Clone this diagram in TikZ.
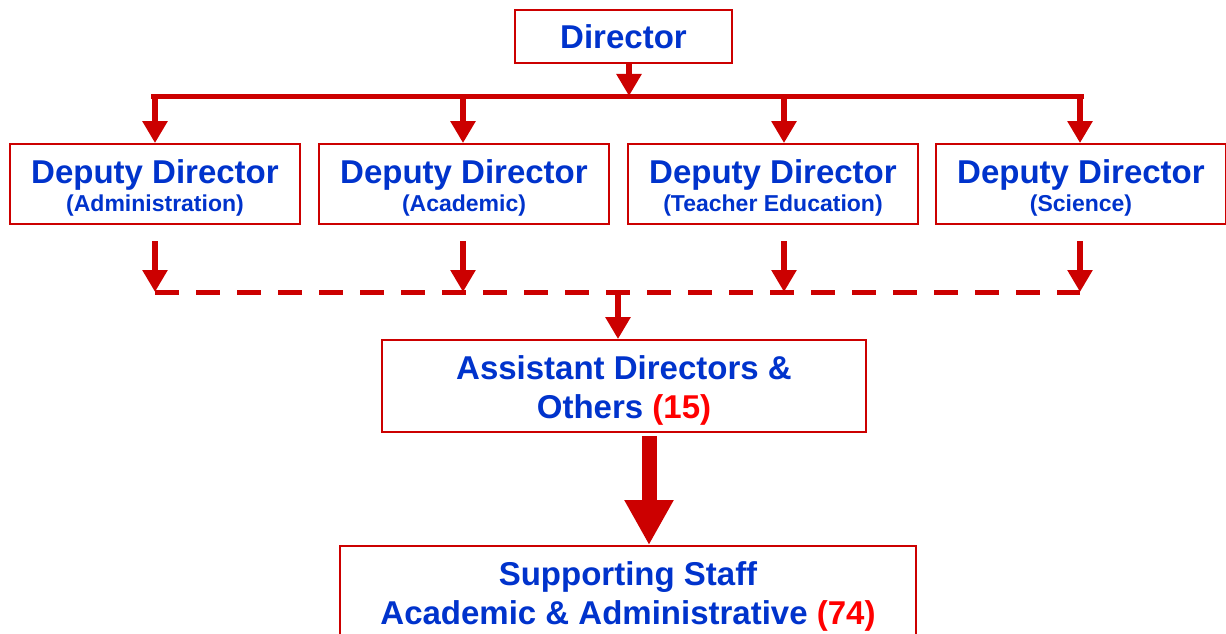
\documentclass[tikz,border=0pt]{standalone}
\usepackage{fontspec}
\setmainfont{Liberation Sans}
\usetikzlibrary{arrows.meta, positioning}
\definecolor{rb}{HTML}{CC0000}
\definecolor{bl}{HTML}{0033CC}
\definecolor{rn}{HTML}{FF0000}
\newcommand{\subline}[1]{{\fontsize{23}{27}\selectfont #1}}
\newcommand{\lift}{\rule{0pt}{32pt}}

\tikzset{
    box/.style={draw=rb, line width=1.8pt, fill=white, text=bl, inner sep=0pt,
        font=\bfseries\fontsize{33}{39}\selectfont, align=center},
    deputy/.style={box, minimum width=290pt, minimum height=80pt},
    feed/.style={rb, line width=6pt, -{Triangle[width=24pt,length=22pt]}},
    bus/.style={rb, line width=5pt},
    bigfeed/.style={rb, line width=15pt, -{Triangle[width=46pt,length=45pt]}}
}

\begin{document}
\begin{tikzpicture}[x=1pt, y=-1pt]
    \useasboundingbox (0,0) rectangle (1226,634);
    \clip (0,0) rectangle (1226,634);

    % Boxes
    \node[box, minimum width=217pt, minimum height=53pt] (director) at (623.5,36.5) {Director};
    \node[deputy] (dep1) at (155,184) {\lift Deputy Director\\[-11pt]\subline{(Administration)}};
    \node[deputy] (dep2) at (464,184) {\lift Deputy Director\\[-11pt]\subline{(Academic)}};
    \node[deputy] (dep3) at (773,184) {\lift Deputy Director\\[-11pt]\subline{(Teacher Education)}};
    \node[deputy] (dep4) at (1081,184) {\lift Deputy Director\\[-11pt]\subline{(Science)}};
    \node[box, minimum width=484pt, minimum height=92pt] (assist) at (624,386)
        {\lift Assistant Directors \&\\Others {\color{rn}(15)}};
    \node[box, minimum width=576pt, minimum height=93pt] (staff) at (628,592.5)
        {\lift Supporting Staff\\Academic \& Administrative {\color{rn}(74)}};

    % Director to deputies
    \coordinate (top) at (629,96);
    \draw[feed] (director.south -| top) -- (top);
    \foreach \n/\x in {1/155, 2/463, 3/784, 4/1080} {
        \coordinate (b\n) at (\x,96);
        \coordinate (u\n) at (\x,241);
        \coordinate (d\n) at (\x,292);
        \draw[feed] (b\n) -- (b\n |- dep\n.north);
        \draw[feed] (u\n) -- (d\n);
    }
    \draw[bus] ([xshift=-4pt]b1) -- ([xshift=4pt]b4);

    % Deputies to assistant directors
    \draw[bus, dash pattern=on 24pt off 17pt] (d1) -- (d4);
    \coordinate (mid) at (618,292);
    \draw[feed] (mid) -- (mid |- assist.north);

    % Assistant directors to staff
    \coordinate (k) at (649,436);
    \draw[bigfeed] (k) -- (k |- staff.north);
\end{tikzpicture}
\end{document}
